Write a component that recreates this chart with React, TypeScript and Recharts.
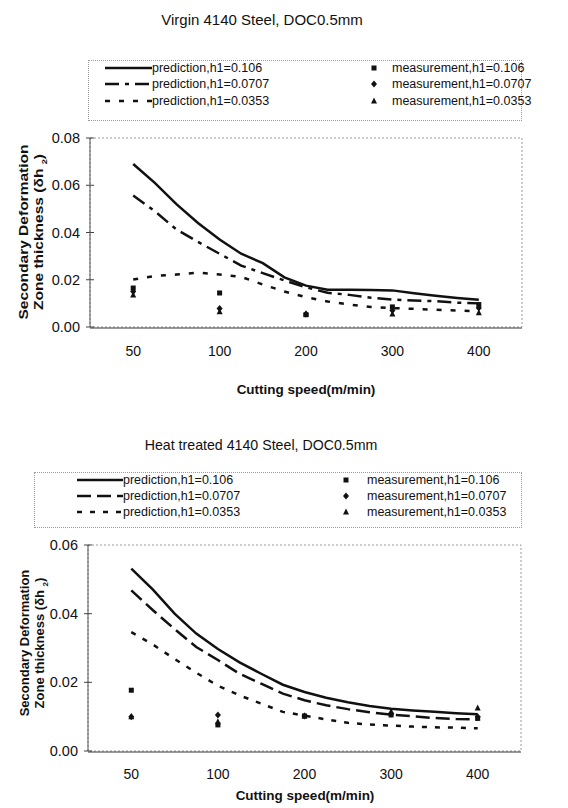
import React from "react";
import { ComposedChart, Line, ReferenceArea, Scatter, XAxis, YAxis } from "recharts";

const speeds = ["50", "100", "200", "300", "400"];
const speedIndex = [0, 1, 2, 3, 4];
const boundaryTicks = [0.5, 1.5, 2.5, 3.5];
// prediction curves are sampled between the measured speeds (position on the category axis)
const predictionSteps = [0, 0.25, 0.5, 0.75, 1, 1.25, 1.5, 1.75, 2, 2.25, 2.5, 2.75, 3, 3.25, 3.5, 3.75, 4];

const virginPred106 = [0.069, 0.061, 0.052, 0.044, 0.037, 0.031, 0.027, 0.021, 0.0175, 0.0158, 0.0158, 0.0157, 0.0155, 0.0143, 0.0132, 0.0123, 0.0115];
const virginPred0707 = [0.0557, 0.049, 0.0413, 0.036, 0.031, 0.026, 0.0228, 0.0197, 0.0168, 0.0145, 0.0136, 0.0124, 0.0116, 0.0112, 0.0109, 0.0103, 0.01];
const virginPred0353 = [0.0201, 0.0216, 0.0222, 0.023, 0.0222, 0.0212, 0.018, 0.015, 0.0126, 0.0108, 0.0095, 0.0085, 0.008, 0.0077, 0.0073, 0.007, 0.0066];
const virginMeas106 = [0.0165, 0.0144, 0.0052, 0.0085, 0.0095];
const virginMeas0707 = [0.015, 0.0078, 0.0055, 0.007, 0.008];
const virginMeas0353 = [0.0135, 0.0065, 0.0055, 0.0055, 0.006];

const heatPred106 = [0.0531, 0.047, 0.04, 0.0342, 0.0297, 0.0258, 0.0225, 0.0193, 0.0172, 0.0155, 0.0142, 0.0131, 0.0123, 0.0118, 0.0114, 0.011, 0.0107];
const heatPred0707 = [0.0468, 0.041, 0.0355, 0.0303, 0.0265, 0.0225, 0.0196, 0.0167, 0.0148, 0.0133, 0.0122, 0.0113, 0.0106, 0.0101, 0.0096, 0.0093, 0.0092];
const heatPred0353 = [0.0346, 0.031, 0.0268, 0.0228, 0.019, 0.0162, 0.0138, 0.0114, 0.0103, 0.0092, 0.0082, 0.0077, 0.0074, 0.0071, 0.0069, 0.0068, 0.0066];
const heatMeas106 = [0.0177, 0.0076, 0.0102, 0.0105, 0.0095];
const heatMeas0707 = [0.01, 0.0105, 0.0102, 0.0108, 0.01];
const heatMeas0353 = [0.01, 0.0085, 0.0102, 0.0115, 0.0125];

const virginTicks = [0, 0.02, 0.04, 0.06, 0.08];
const heatTicks = [0, 0.02, 0.04, 0.06];

const predictionNames = ["prediction,h1=0.106", "prediction,h1=0.0707", "prediction,h1=0.0353"];
const measurementNames = ["measurement,h1=0.106", "measurement,h1=0.0707", "measurement,h1=0.0353"];

const font = "'Liberation Sans', Arial, sans-serif";
const ink = "#111";

function buildRows(a: number[], b: number[], c: number[]) {
  return predictionSteps.map((step, i) => ({ step, p106: a[i], p0707: b[i], p0353: c[i] }));
}

function buildPoints(values: number[]) {
  return speedIndex.map((step, i) => ({ step, v: values[i] }));
}

type MarkKind = "square" | "diamond" | "triangle";
const markKinds: MarkKind[] = ["square", "diamond", "triangle"];

function Mark({ kind, cx, cy }: { kind: MarkKind; cx: number; cy: number }) {
  if (kind === "square") return <rect x={cx - 2.5} y={cy - 2.5} width={5} height={5} fill={ink} />;
  if (kind === "diamond") return <polygon points={`${cx},${cy - 3.5} ${cx + 3},${cy} ${cx},${cy + 3.5} ${cx - 3},${cy}`} fill={ink} />;
  return <polygon points={`${cx},${cy - 3.5} ${cx + 3},${cy + 2.5} ${cx - 3},${cy + 2.5}`} fill={ink} />;
}

type PanelConfig = {
  title: string;
  titleY: number;
  titleX: number;
  titleSize: number;
  top: number;
  height: number;
  margin: { top: number; right: number; bottom: number; left: number };
  yMax: number;
  yTicks: number[];
  rows: ReturnType<typeof buildRows>;
  meas: number[][];
  dashes: (string | undefined)[];
  tickLabelGap: number;
  xLabelY: number;
  xLabelX: number;
  yLabel: { cx: number; cy: number; size: number; stretch: number };
  legend: { left: number; right: number; top: number; bottom: number; rowY: number[]; swatchX: number; textX: number; markX: number; markTextX: number };
};

function LegendBox({ cfg }: { cfg: PanelConfig }) {
  const lg = cfg.legend;
  const text: React.CSSProperties = { position: "absolute", fontSize: 12.5, fontFamily: font, color: ink, lineHeight: "14px", whiteSpace: "nowrap" };
  return (
    <>
      <div
        style={{
          position: "absolute",
          left: lg.left,
          top: lg.top,
          width: lg.right - lg.left,
          height: lg.bottom - lg.top,
          border: "1px dotted #9a9a9a",
          boxSizing: "border-box",
        }}
      />
      {predictionNames.map((name, i) => (
        <React.Fragment key={name}>
          <svg style={{ position: "absolute", left: lg.swatchX, top: lg.rowY[i] - 5 }} width={lg.textX - lg.swatchX} height={10}>
            <line x1={0} y1={5} x2={lg.textX - lg.swatchX} y2={5} stroke={ink} strokeWidth={2.5} strokeDasharray={cfg.dashes[i]} />
          </svg>
          <div style={{ ...text, left: lg.textX, top: lg.rowY[i] - 7 }}>{name}</div>
        </React.Fragment>
      ))}
      {measurementNames.map((name, i) => (
        <React.Fragment key={name}>
          <svg style={{ position: "absolute", left: lg.markX - 5, top: lg.rowY[i] - 5 }} width={10} height={10}>
            <Mark kind={markKinds[i]} cx={5} cy={5} />
          </svg>
          <div style={{ ...text, left: lg.markTextX, top: lg.rowY[i] - 7 }}>{name}</div>
        </React.Fragment>
      ))}
    </>
  );
}

function Panel({ cfg }: { cfg: PanelConfig }) {
  const yl = cfg.yLabel;
  return (
    <>
      <div style={{ position: "absolute", left: 0, top: cfg.top }}>
        <ComposedChart width={568} height={cfg.height} data={cfg.rows} margin={cfg.margin}>
          <ReferenceArea x1={-0.5} x2={4.5} y1={0} y2={cfg.yMax} fill="none" stroke="#9a9a9a" strokeDasharray="2 2" ifOverflow="visible" />
          <XAxis
            xAxisId="bounds"
            dataKey="step"
            type="number"
            domain={[-0.5, 4.5]}
            ticks={boundaryTicks}
            tick={false}
            tickSize={10}
            tickLine={{ stroke: "#444", transform: "translate(0,-5)" }}
            axisLine={{ stroke: "#333" }}
            height={1}
          />
          <XAxis
            dataKey="step"
            type="number"
            domain={[-0.5, 4.5]}
            ticks={speedIndex}
            tickFormatter={(v: number) => speeds[v]}
            tickLine={false}
            axisLine={false}
            tickSize={0}
            tickMargin={cfg.tickLabelGap}
            tick={{ fill: ink, fontSize: 14, fontFamily: font }}
            height={1}
          />
          <YAxis
            type="number"
            domain={[0, cfg.yMax]}
            ticks={cfg.yTicks}
            tickFormatter={(v: number) => v.toFixed(2)}
            tickSize={8}
            tickMargin={2}
            tickLine={{ stroke: "#444", transform: "translate(4,0)" }}
            axisLine={{ stroke: "#555" }}
            tick={{ fill: ink, fontSize: 14.5, fontFamily: font }}
            width={50}
          />
          <Line dataKey="p106" type="linear" stroke={ink} strokeWidth={2.5} strokeDasharray={cfg.dashes[0]} dot={false} isAnimationActive={false} />
          <Line dataKey="p0707" type="linear" stroke={ink} strokeWidth={2.5} strokeDasharray={cfg.dashes[1]} dot={false} isAnimationActive={false} />
          <Line dataKey="p0353" type="linear" stroke={ink} strokeWidth={2.5} strokeDasharray={cfg.dashes[2]} dot={false} isAnimationActive={false} />
          {cfg.meas.map((values, i) => (
            <Scatter
              key={measurementNames[i]}
              data={buildPoints(values)}
              dataKey="v"
              isAnimationActive={false}
              shape={(p: any) => <Mark kind={markKinds[i]} cx={p.cx} cy={p.cy} />}
            />
          ))}
        </ComposedChart>
      </div>
      <div
        style={{
          position: "absolute",
          left: cfg.titleX - 200,
          width: 400,
          top: cfg.titleY - 9,
          textAlign: "center",
          fontFamily: font,
          fontSize: cfg.titleSize,
          lineHeight: "18px",
          color: ink,
        }}
      >
        {cfg.title}
      </div>
      <LegendBox cfg={cfg} />
      <div
        style={{
          position: "absolute",
          left: yl.cx - 100,
          top: yl.cy - 15,
          width: 200,
          height: 30,
          transform: `rotate(-90deg) scaleX(${yl.stretch})`,
          textAlign: "center",
          fontFamily: font,
          fontWeight: "bold",
          fontSize: yl.size,
          lineHeight: "15px",
          color: ink,
          whiteSpace: "nowrap",
        }}
      >
        <div>Secondary Deformation</div>
        <div>
          Zone thickness (δh <sub style={{ fontSize: 8, verticalAlign: "sub" }}>2</sub>)
        </div>
      </div>
      <div
        style={{
          position: "absolute",
          left: cfg.xLabelX - 150,
          width: 300,
          top: cfg.xLabelY - 9,
          textAlign: "center",
          fontFamily: font,
          fontWeight: "bold",
          fontSize: 13.5,
          lineHeight: "18px",
          color: ink,
        }}
      >
        Cutting speed(m/min)
      </div>
    </>
  );
}

const virginPanel: PanelConfig = {
  title: "Virgin 4140 Steel, DOC0.5mm",
  titleY: 20,
  titleX: 262,
  titleSize: 15,
  top: 0,
  height: 410,
  margin: { top: 138, right: 46, bottom: 81, left: 40 },
  yMax: 0.08,
  yTicks: virginTicks,
  rows: buildRows(virginPred106, virginPred0707, virginPred0353),
  meas: [virginMeas106, virginMeas0707, virginMeas0353],
  dashes: [undefined, "14 6 4 6", "5 9"],
  tickLabelGap: 19,
  xLabelY: 390,
  xLabelX: 306,
  yLabel: { cx: 31, cy: 232, size: 13.5, stretch: 1.15 },
  legend: { left: 88, right: 522, top: 60, bottom: 121, rowY: [68, 84, 101], swatchX: 105, textX: 152, markX: 374, markTextX: 392 },
};

const heatPanel: PanelConfig = {
  title: "Heat treated 4140 Steel, DOC0.5mm",
  titleY: 445,
  titleX: 261,
  titleSize: 14.2,
  top: 420,
  height: 388,
  margin: { top: 125, right: 47, bottom: 55, left: 38 },
  yMax: 0.06,
  yTicks: heatTicks,
  rows: buildRows(heatPred106, heatPred0707, heatPred0353),
  meas: [heatMeas106, heatMeas0707, heatMeas0353],
  dashes: [undefined, "14 6", "5 8"],
  tickLabelGap: 18,
  xLabelY: 796,
  xLabelX: 305,
  yLabel: { cx: 32, cy: 643, size: 13, stretch: 1 },
  legend: { left: 34, right: 522, top: 472, bottom: 528, rowY: [480, 496, 512], swatchX: 77, textX: 123, markX: 346, markTextX: 367 },
};

export default function App() {
  return (
    <div style={{ position: "absolute", left: 0, top: 0, width: 568, height: 808, background: "#fff", overflow: "hidden" }}>
      <Panel cfg={virginPanel} />
      <Panel cfg={heatPanel} />
    </div>
  );
}
